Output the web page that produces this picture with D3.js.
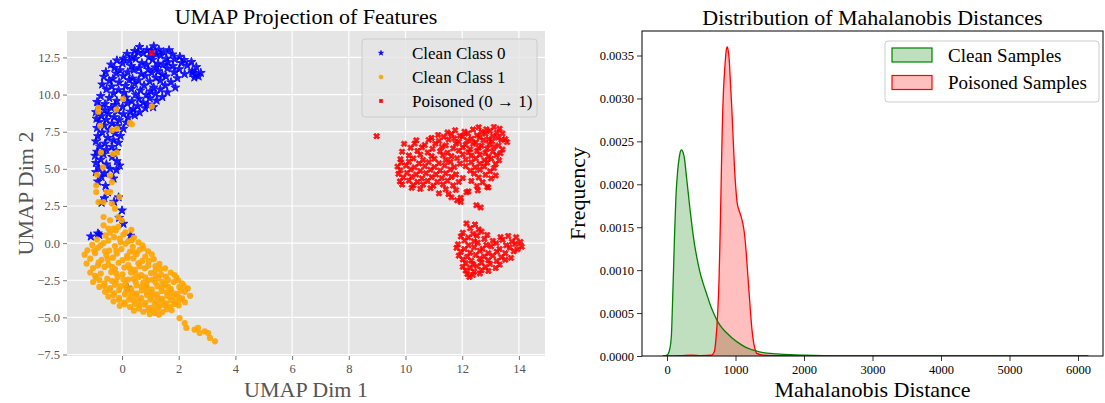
<!DOCTYPE html>
<html>
<head>
<meta charset="utf-8">
<script src="https://cdn.jsdelivr.net/npm/d3@7"></script>
<style>
  html, body { margin: 0; padding: 0; background: #fff; }
  svg { display: block; }
  text { font-family: "Liberation Serif", "Times New Roman", serif; }
</style>
</head>
<body>
<svg id="chart" width="1105" height="403"></svg>
<script>
// ---------------- DATA ----------------
const umapXTicks = [0, 2, 4, 6, 8, 10, 12, 14];
const umapYTicks = [-7.5, -5.0, -2.5, 0.0, 2.5, 5.0, 7.5, 10.0, 12.5];
const distXTicks = [0, 1000, 2000, 3000, 4000, 5000, 6000];
const freqYTicks = [0, 0.0005, 0.001, 0.0015, 0.002, 0.0025, 0.003, 0.0035];

const scatterLabels = ["Clean Class 0", "Clean Class 1", "Poisoned (0 \u2192 1)"];
const kdeLabels = ["Clean Samples", "Poisoned Samples"];

// Clean class 0 (UMAP dim1, dim2)
const cleanClass0 = [
[0.62,13.21],[0.88,13.0],[1.12,13.25],[1.3,13.02],[0.45,12.93],[0.75,12.78],[1.02,12.93],[1.47,12.86],[1.66,12.99],[1.2,12.71],
[0.18,12.74],[0.36,12.55],[0.58,12.82],[0.95,12.52],[1.36,12.62],[1.78,12.7],[2.04,12.55],[1.57,12.42],[2.19,12.33],[0.05,12.42],
[-0.18,12.3],[0.25,12.26],[0.48,12.41],[0.7,12.12],[1.08,12.35],[1.27,12.08],[1.86,12.38],[2.1,12.13],[2.45,12.2],[1.62,12.18],
[-0.39,12.02],[0.02,12.1],[0.33,11.92],[0.86,12.01],[1.17,11.83],[1.45,12.0],[1.8,11.92],[2.3,11.96],[2.62,11.85],[0.6,11.78],
[-0.27,11.79],[-0.07,11.64],[0.42,11.66],[0.93,11.69],[1.28,11.58],[1.6,11.76],[2.02,11.71],[2.48,11.58],[2.78,11.46],[2.61,11.33],
[-0.57,11.52],[-0.2,11.42],[0.2,11.5],[0.68,11.38],[1.05,11.47],[1.42,11.33],[1.84,11.5],[2.21,11.38],[2.7,11.22],[2.48,11.45],
[-0.64,11.2],[-0.32,11.06],[0.05,11.24],[0.37,11.08],[0.82,11.26],[1.2,11.12],[1.55,11.22],[1.95,11.1],[2.55,11.15],[0.58,10.96],
[-0.45,10.92],[-0.1,10.82],[0.25,10.97],[0.98,10.88],[1.35,10.95],[1.73,10.83],[0.45,10.72],[-0.7,10.68],[0.12,10.58],[0.78,10.62],
[1.12,10.48],[1.52,10.62],[1.88,10.47],[-0.36,10.55],[-0.55,10.35],[-0.12,10.3],[0.33,10.38],[0.65,10.28],[1.0,10.22],[1.35,10.35],
[1.6,10.15],[-0.3,10.08],[0.07,10.12],[0.48,10.0],[0.86,9.98],[1.18,10.06],[1.42,9.83],[-0.75,9.9],[-0.45,9.77],[0.15,9.8],
[0.6,9.72],[0.98,9.75],[1.22,9.6],[-0.18,9.58],[0.35,9.55],[0.75,9.45],[-0.88,9.5],[-0.6,9.36],[-0.25,9.3],[0.18,9.42],
[0.55,9.22],[0.9,9.33],[1.1,9.15],[-0.8,9.2],[-0.38,9.1],[0.02,9.18],[0.4,9.02],[0.82,9.08],[-0.6,8.95],[-0.15,8.9],
[0.3,8.85],[0.62,8.8],[-0.92,8.82],[-0.48,8.7],[0.05,8.68],[0.45,8.6],[-0.72,8.55],[-0.28,8.48],[0.22,8.45],[-0.9,8.38],
[-0.55,8.3],[-0.1,8.28],[0.15,8.12],[-0.8,8.15],[-0.35,8.05],[-0.62,7.92],[-0.15,7.88],[0.05,7.7],[-0.88,7.75],[-0.45,7.62],
[-0.7,7.45],[-0.25,7.4],[-0.05,7.22],[-0.85,7.2],[-0.5,7.08],[-0.3,6.92],[-0.92,6.85],[-0.6,6.7],[-0.12,6.76],[-0.78,6.5],
[-0.35,6.48],[-0.55,6.28],[-0.88,6.15],[-0.2,6.2],[-0.65,5.98],[-0.95,5.88],[-0.35,5.8],[-0.75,5.62],[-0.18,5.52],[-0.92,5.4],
[-0.55,5.3],[-0.08,5.22],[-0.82,5.08],[-0.42,5.0],[-0.2,4.92],[-0.92,4.78],[-0.62,4.7],[-0.72,4.45],[-0.3,4.35],[-0.85,4.15],
[-0.58,3.85],[-0.5,3.42],[-0.62,3.02],[-0.12,3.08],[-0.72,2.72],[-0.28,2.78],
[0.0,2.2],[-0.1,1.7],[0.05,1.3],[0.3,0.5],[-1.1,0.45],[-0.85,0.65],[-0.8,0.55],[0.2,-3.0]
];

// Clean class 1
const cleanClass1 = [
[-0.84,9.1],[-0.84,8.85],[0.04,9.7],[-0.2,9.0],[1.05,9.2],[0.35,8.0],[0.28,8.1],[-0.35,7.6],[-0.18,7.7],[-0.77,7.9],
[-0.74,6.1],[-0.32,6.0],[-0.18,6.1],[-0.67,5.1],[-0.88,4.6],[-0.42,4.55],[-0.36,4.1],[-0.54,3.44],[-0.91,3.88],[-0.91,3.44],
[-0.42,3.44],[-0.65,2.77],[-0.83,2.77],[-0.36,2.66],[-0.09,3.1],[-0.25,2.32],[-0.65,1.76],[-0.13,1.76],[-0.42,1.54],[-0.65,1.2],
[-0.48,0.98],[-0.3,0.98],[-0.13,1.09],[-0.01,1.54],
[-0.22,0.85],[0.12,0.72],[0.33,0.9],[-0.58,0.52],[-0.28,0.4],[0.05,0.58],[0.42,0.38],[-0.88,0.24],[-0.48,0.18],[-0.08,0.3],
[0.22,0.12],[0.58,0.05],[-1.05,-0.12],[-0.65,0.0],[-0.25,-0.2],[0.12,-0.05],[0.38,-0.25],[0.72,-0.15],[-1.22,-0.48],[-0.85,-0.32],
[-0.45,-0.5],[-0.02,-0.4],[0.28,-0.58],[0.62,-0.45],[0.92,-0.55],[-1.32,-0.78],[-0.95,-0.68],[-0.55,-0.82],[-0.18,-0.7],[0.18,-0.85],
[0.52,-0.72],[0.82,-0.9],[1.05,-0.75],[-1.12,-1.05],[-0.72,-1.12],[-0.32,-0.98],[0.02,-1.15],[0.4,-1.02],[0.72,-1.2],[1.12,-1.08],
[-1.25,-1.38],[-0.82,-1.3],[-0.48,-1.45],[-0.12,-1.32],[0.22,-1.48],[0.58,-1.35],[0.92,-1.52],[1.32,-1.4],[-1.02,-1.68],[-0.62,-1.6],
[-0.25,-1.75],[0.08,-1.65],[0.45,-1.8],[0.8,-1.7],[1.18,-1.85],[1.52,-1.7],[-1.12,-1.98],[-0.75,-2.05],[-0.38,-1.95],[0.02,-2.1],
[0.32,-1.98],[0.68,-2.15],[1.02,-2.02],[1.38,-2.12],[1.72,-1.98],[-0.92,-2.32],[-0.52,-2.4],[-0.15,-2.28],[0.22,-2.45],[0.58,-2.3],
[0.92,-2.5],[1.28,-2.35],[1.62,-2.48],[1.92,-2.32],[-1.02,-2.62],[-0.62,-2.7],[-0.22,-2.58],[0.12,-2.75],[0.48,-2.62],[0.85,-2.8],
[1.18,-2.65],[1.52,-2.78],[1.82,-2.62],[2.12,-2.72],[-0.8,-2.95],[-0.42,-3.02],[-0.05,-2.9],[0.32,-3.08],[0.7,-2.95],[1.05,-3.12],
[1.4,-2.98],[1.72,-3.1],[2.02,-2.95],[2.32,-3.05],[-0.6,-3.28],[-0.28,-3.38],[0.15,-3.25],[0.52,-3.4],[0.88,-3.3],[1.22,-3.45],
[1.58,-3.32],[1.92,-3.42],[2.22,-3.28],[-0.48,-3.6],[-0.1,-3.68],[0.3,-3.58],[0.68,-3.7],[1.05,-3.6],[1.42,-3.75],[1.78,-3.62],
[2.12,-3.72],[2.4,-3.55],[-0.3,-3.92],[0.08,-4.0],[0.42,-3.88],[0.82,-4.02],[1.2,-3.92],[1.55,-4.05],[1.9,-3.95],[2.22,-3.98],
[-0.08,-4.22],[0.28,-4.3],[0.62,-4.2],[0.98,-4.35],[1.32,-4.25],[1.7,-4.3],[2.0,-4.2],[0.42,-4.55],[0.75,-4.62],[1.08,-4.5],
[1.42,-4.65],[1.75,-4.52],[0.98,-4.78],[1.3,-4.82],
[-0.42,0.7],[-0.05,0.05],[0.35,0.2],[-0.75,-0.15],[-0.98,-0.5],[-0.6,-0.55],[-0.2,-0.52],[0.45,-0.62],[0.75,-0.35],[-0.5,-1.1],
[0.2,-1.0],[0.95,-1.2],[1.18,-1.55],[-0.85,-1.5],[-0.35,-1.6],[0.28,-1.7],[0.62,-1.55],[1.35,-1.75],[-0.95,-2.2],[-0.2,-2.05],
[0.48,-2.05],[0.82,-2.3],[1.2,-2.2],[1.55,-2.25],[1.85,-2.15],[-0.8,-2.48],[-0.35,-2.55],[0.05,-2.45],[0.4,-2.4],[0.75,-2.65],
[1.08,-2.45],[1.42,-2.6],[1.98,-2.5],[-0.62,-2.88],[-0.25,-2.8],[0.15,-2.95],[0.52,-2.85],[0.88,-2.98],[1.25,-2.9],[1.62,-2.92],
[2.18,-2.88],[-0.45,-3.15],[-0.1,-3.15],[0.35,-3.3],[0.7,-3.18],[1.05,-3.35],[1.4,-3.22],[1.75,-3.28],[2.08,-3.2],[-0.3,-3.5],
[0.1,-3.45],[0.48,-3.55],[0.88,-3.5],[1.25,-3.62],[1.6,-3.55],[1.98,-3.6],[-0.1,-3.82],[0.25,-3.8],[0.62,-3.85],[1.0,-3.8],
[1.38,-3.88],[1.72,-3.85],[2.05,-3.82],[0.1,-4.12],[0.45,-4.1],[0.8,-4.15],[1.15,-4.12],[1.5,-4.18],[1.85,-4.1],[0.6,-4.4],
[0.92,-4.48],[1.25,-4.42],[1.58,-4.45],[1.15,-4.7],
[2.03,-5.05],[2.21,-5.38],[2.27,-5.71],[2.56,-5.83],[2.68,-5.71],[2.74,-6.05],[2.92,-5.94],[3.04,-6.05],[3.1,-6.38],[3.28,-6.61]
];

// Poisoned (0 -> 1)
const poisoned = [
[1.05,12.8],[8.98,7.2],
[12.58,7.8],[12.85,7.66],[13.12,7.82],[13.32,7.7],[11.48,7.45],[11.75,7.6],[12.08,7.5],[12.38,7.65],[12.68,7.48],[12.98,7.55],
[13.22,7.42],[11.15,7.28],[11.62,7.33],[11.92,7.22],[12.2,7.38],[12.52,7.26],[12.82,7.36],[13.08,7.2],[13.42,7.38],[10.92,7.08],
[11.35,7.15],[11.72,7.05],[12.02,7.18],[12.33,7.02],[12.62,7.12],[12.93,7.0],[13.25,7.1],[13.52,7.0],
[10.38,6.92],[10.82,6.95],[11.18,6.88],[11.52,6.98],[11.88,6.82],[12.18,6.9],[12.48,6.78],[12.75,6.92],[13.05,6.85],[13.38,6.95],
[13.58,6.8],[9.95,6.68],[10.32,6.7],[10.68,6.6],[11.05,6.7],[11.42,6.58],[11.78,6.7],[12.12,6.62],[12.38,6.68],[12.68,6.55],
[12.95,6.66],[13.28,6.58],[10.18,6.42],[10.58,6.45],[10.95,6.35],[11.28,6.48],[11.68,6.38],[12.02,6.45],[12.28,6.32],[12.58,6.42],
[12.88,6.36],[13.12,6.48],[13.42,6.3],
[9.88,6.15],[10.42,6.2],[10.78,6.1],[11.22,6.18],[11.48,6.08],[11.88,6.22],[12.22,6.12],[12.52,6.2],[12.82,6.08],[13.08,6.16],
[13.35,6.05],[10.12,5.9],[10.52,5.95],[10.92,5.85],[11.32,5.92],[11.62,5.85],[12.02,5.96],[12.32,5.88],[12.62,5.95],[12.92,5.82],
[13.2,5.92],[9.82,5.65],[10.28,5.7],[10.62,5.6],[11.02,5.68],[11.42,5.6],[11.82,5.72],[12.12,5.62],[12.48,5.7],[12.78,5.58],
[13.02,5.68],[13.3,5.58],
[9.85,5.42],[10.12,5.48],[10.48,5.36],[10.82,5.45],[11.18,5.38],[11.58,5.46],[11.92,5.35],[12.32,5.44],[12.62,5.34],[12.88,5.42],
[13.18,5.32],[9.72,5.15],[10.02,5.22],[10.32,5.1],[10.68,5.18],[11.02,5.12],[11.38,5.22],[11.72,5.12],[12.12,5.18],[12.45,5.1],
[12.78,5.16],[13.12,5.05],[9.82,4.9],[10.18,4.96],[10.52,4.86],[10.88,4.94],[11.22,4.88],[11.58,4.95],[12.28,4.88],[12.62,4.94],
[12.98,4.84],
[9.75,4.66],[10.05,4.72],[10.38,4.62],[10.72,4.7],[11.08,4.62],[11.42,4.7],[11.78,4.62],[12.42,4.68],[12.82,4.6],[13.18,4.55],
[9.92,4.42],[10.22,4.46],[10.58,4.36],[10.92,4.44],[11.28,4.38],[11.62,4.45],[12.02,4.38],[12.58,4.42],[13.02,4.36],[9.8,4.15],
[10.12,4.2],[10.42,4.12],[10.78,4.18],[11.12,4.12],[11.48,4.2],[11.88,4.12],[12.32,4.18],[12.72,4.1],[9.88,3.95],[10.28,3.9],
[10.62,3.95],[10.98,3.86],[11.32,3.94],[11.68,3.88],[12.52,3.84],[12.88,3.78],
[10.22,3.72],[10.52,3.65],[10.88,3.7],[11.42,3.62],[11.78,3.58],[12.22,3.48],[12.92,3.75],[11.18,3.35],[11.52,3.3],[12.15,3.42],
[12.55,3.55],[11.62,3.08],[11.95,3.05],[11.82,2.88],[11.95,2.77],[12.5,2.55],[12.65,2.4],
[12.15,1.32],[12.45,1.25],[12.28,1.0],[12.58,0.92],[12.02,0.7],[12.38,0.62],[12.68,0.78],[11.95,0.45],[12.22,0.38],[12.52,0.5],
[12.88,0.55],[13.35,0.4],[13.62,0.48],[13.9,0.4],[12.08,0.18],[12.42,0.12],[12.78,0.28],[13.08,0.15],[13.42,0.22],[13.75,0.1],
[14.05,0.08],[11.85,-0.08],[12.22,-0.15],[12.55,0.02],[12.85,-0.12],[13.2,0.0],[13.55,-0.15],[13.88,-0.05],[14.1,-0.25],[11.8,-0.32],
[12.08,-0.4],[12.42,-0.28],[12.72,-0.38],[13.02,-0.22],[13.32,-0.4],[13.68,-0.3],[13.95,-0.42],[11.95,-0.58],[12.28,-0.65],[12.62,-0.52],
[12.92,-0.68],[13.22,-0.58],[13.52,-0.68],[13.82,-0.55],[11.88,-0.85],[12.18,-0.92],[12.48,-0.8],[12.78,-0.9],[13.08,-0.85],[13.38,-0.95],
[13.72,-1.0],[12.02,-1.1],[12.32,-1.18],[12.62,-1.05],[12.92,-1.15],[13.22,-1.2],[13.52,-1.12],[12.12,-1.35],[12.38,-1.42],[12.68,-1.32],
[12.98,-1.4],[13.32,-1.45],[12.02,-1.6],[12.28,-1.68],[12.52,-1.55],[12.82,-1.62],[13.18,-1.68],[12.12,-1.85],[12.42,-1.92],[12.68,-1.82],
[12.92,-1.88],[12.18,-2.08],[12.38,-2.15],[12.62,-2.05],[12.25,-2.28]
];

// KDE of Mahalanobis distances: [distance, density]
const cleanKde = [
[-60,0],[0,0.00001],[40,0.00008],[65,0.00025],[80,0.0006],[95,0.001],[110,0.0014],[130,0.00185],[155,0.00215],
[180,0.00232],[200,0.00239],[215,0.0024],[235,0.00237],[255,0.0023],[280,0.00212],[310,0.0019],[340,0.00168],
[370,0.00148],[400,0.00131],[440,0.00113],[480,0.00098],[530,0.00084],[580,0.00072],[630,0.0006],[680,0.0005],
[740,0.0004],[800,0.00033],[870,0.00027],[950,0.00021],[1050,0.00015],[1150,0.0001],[1250,0.00007],[1400,0.00004],
[1600,0.000025],[1800,0.000015],[2000,0.00001],[2300,0.000005],[2600,0.000002],[3000,0],[6150,0]
];
const poisonedKde = [
[-60,0],[200,0.000003],[350,0.00001],[500,0.000005],[650,0.00001],[690,0.00005],[715,0.0002],[740,0.0005],
[760,0.0009],[775,0.0014],[790,0.002],[805,0.0026],[825,0.0031],[845,0.00337],[865,0.00356],[880,0.0036],
[895,0.00355],[910,0.00343],[925,0.0032],[945,0.0029],[965,0.00255],[985,0.0022],[1005,0.00195],[1025,0.00178],
[1050,0.0017],[1080,0.00163],[1105,0.00155],[1130,0.00143],[1155,0.00122],[1180,0.00094],[1200,0.00072],
[1220,0.0005],[1240,0.00031],[1260,0.00018],[1285,0.00008],[1310,0.00003],[1400,0.00001],[1600,0.000005],
[2000,0.000002],[6150,0]
];

// ---------------- DRAW ----------------
const svg = d3.select("#chart");
const FONT = '"Liberation Serif", "Times New Roman", serif';

function styleAxis(a, col, size) {
  a.attr("font-family", FONT).attr("font-size", size);
  a.select(".domain").remove();
  a.selectAll(".tick line").attr("stroke", col).attr("stroke-width", 0.8);
  a.selectAll(".tick text").attr("fill", col)
    .attr("font-family", FONT).attr("font-size", size)
    .style("font-family", FONT).style("font-size", size + "px");
}

// ===== Left panel =====
const L = {left: 67, right: 545, top: 31, bottom: 356};
const xL = d3.scaleLinear().domain([-1.94, 14.92]).range([L.left, L.right]);
const yL = d3.scaleLinear().domain([-7.6, 14.28]).range([L.bottom, L.top]);

const gL = svg.append("g");
gL.append("rect").attr("x", L.left).attr("y", L.top)
  .attr("width", L.right - L.left).attr("height", L.bottom - L.top).attr("fill", "#e5e5e5");

gL.append("g").selectAll("line").data(umapXTicks).join("line")
  .attr("x1", d => xL(d)).attr("x2", d => xL(d)).attr("y1", L.top).attr("y2", L.bottom)
  .attr("stroke", "#fff").attr("stroke-width", 1.2);
gL.append("g").selectAll("line").data(umapYTicks).join("line")
  .attr("y1", d => yL(d)).attr("y2", d => yL(d)).attr("x1", L.left).attr("x2", L.right)
  .attr("stroke", "#fff").attr("stroke-width", 1.2);

const axXL = gL.append("g").attr("transform", `translate(0,${L.bottom})`)
  .call(d3.axisBottom(xL).tickValues(umapXTicks).tickFormat(d3.format("d")).tickSize(4).tickPadding(4));
const axYL = gL.append("g").attr("transform", `translate(${L.left},0)`)
  .call(d3.axisLeft(yL).tickValues(umapYTicks).tickFormat(d3.format(".1f")).tickSize(4).tickPadding(3));
styleAxis(axXL, "#555", 12.5);
styleAxis(axYL, "#555", 12.5);

svg.append("clipPath").attr("id", "clipL").append("rect")
  .attr("x", L.left).attr("y", L.top).attr("width", L.right - L.left).attr("height", L.bottom - L.top);
const pts = gL.append("g").attr("clip-path", "url(#clipL)");

const starSym = d3.symbol().type(d3.symbolStar).size(24);
const circSym = d3.symbol().type(d3.symbolCircle).size(30);
const xSym = d3.symbol().type(d3.symbolCross).size(22);

pts.append("g").selectAll("path").data(cleanClass0).join("path")
  .attr("d", starSym)
  .attr("transform", d => `translate(${xL(d[0])},${yL(d[1])})`)
  .attr("fill", "#0000ff").attr("stroke", "#0000ff").attr("stroke-width", 1).attr("stroke-linejoin", "round").attr("opacity", 0.9);
pts.append("g").selectAll("path").data(cleanClass1).join("path")
  .attr("d", circSym)
  .attr("transform", d => `translate(${xL(d[0])},${yL(d[1])})`)
  .attr("fill", "#ffa500").attr("opacity", 0.9);
pts.append("g").selectAll("path").data(poisoned).join("path")
  .attr("d", xSym)
  .attr("transform", d => `translate(${xL(d[0])},${yL(d[1])}) rotate(45)`)
  .attr("fill", "#ff0000").attr("stroke", "#ff0000").attr("stroke-width", 0.8).attr("opacity", 0.9);

// left legend
const legL = gL.append("g");
legL.append("rect").attr("x", 362).attr("y", 39).attr("width", 175).attr("height", 78).attr("rx", 3)
  .attr("fill", "#e5e5e5").attr("fill-opacity", 0.8).attr("stroke", "#cccccc");
const legSyms = [
  {sym: d3.symbol().type(d3.symbolStar).size(8), fill: "#0000ff", rot: 0},
  {sym: d3.symbol().type(d3.symbolCircle).size(12), fill: "#ffa500", rot: 0},
  {sym: d3.symbol().type(d3.symbolCross).size(9), fill: "#ff0000", rot: 45}
];
scatterLabels.forEach((lab, i) => {
  const y = 53 + i * 24;
  legL.append("path").attr("d", legSyms[i].sym)
    .attr("transform", `translate(381,${y}) rotate(${legSyms[i].rot})`)
    .attr("fill", legSyms[i].fill).attr("stroke", legSyms[i].fill).attr("stroke-width", 0.6);
  legL.append("text").attr("x", 412).attr("y", y).attr("dy", "0.35em")
    .style("font-size", "17px").attr("fill", "#000").text(lab);
});

gL.append("text").attr("x", (L.left + L.right) / 2).attr("y", 24).attr("text-anchor", "middle")
  .style("font-size", "22px").attr("fill", "#000").text("UMAP Projection of Features");
gL.append("text").attr("x", (L.left + L.right) / 2).attr("y", 397).attr("text-anchor", "middle")
  .style("font-size", "22px").attr("fill", "#555").text("UMAP Dim 1");
gL.append("text").attr("transform", `translate(33,${(L.top + L.bottom) / 2}) rotate(-90)`)
  .attr("text-anchor", "middle").style("font-size", "22px").attr("fill", "#555").text("UMAP Dim 2");

// ===== Right panel =====
const R = {left: 642, right: 1103, top: 31, bottom: 356};
const xR = d3.scaleLinear().domain([-365, 6365]).range([R.left, R.right]);
const yR = d3.scaleLinear().domain([0, 0.0037855]).range([R.bottom, R.top]);
const gR = svg.append("g");

svg.append("clipPath").attr("id", "clipR").append("rect")
  .attr("x", R.left).attr("y", R.top).attr("width", R.right - R.left).attr("height", R.bottom - R.top);

const area = d3.area().x(d => xR(d[0])).y0(yR(0)).y1(d => yR(d[1])).curve(d3.curveMonotoneX);
const line = d3.line().x(d => xR(d[0])).y(d => yR(d[1])).curve(d3.curveMonotoneX);
const kdeG = gR.append("g").attr("clip-path", "url(#clipR)");
kdeG.append("path").datum(cleanKde).attr("d", area).attr("fill", "green").attr("fill-opacity", 0.25);
kdeG.append("path").datum(poisonedKde).attr("d", area).attr("fill", "red").attr("fill-opacity", 0.25);
kdeG.append("path").datum(cleanKde).attr("d", line).attr("fill", "none").attr("stroke", "green").attr("stroke-width", 1.3);
kdeG.append("path").datum(poisonedKde).attr("d", line).attr("fill", "none").attr("stroke", "red").attr("stroke-width", 1.3);

const axXR = gR.append("g").attr("transform", `translate(0,${R.bottom})`)
  .call(d3.axisBottom(xR).tickValues(distXTicks).tickFormat(d3.format("d")).tickSize(5).tickPadding(4));
const axYR = gR.append("g").attr("transform", `translate(${R.left},0)`)
  .call(d3.axisLeft(yR).tickValues(freqYTicks).tickFormat(d3.format(".4f")).tickSize(5).tickPadding(3));
styleAxis(axXR, "#000", 12.5);
styleAxis(axYR, "#000", 12.5);
gR.append("rect").attr("x", R.left).attr("y", R.top).attr("width", R.right - R.left).attr("height", R.bottom - R.top)
  .attr("fill", "none").attr("stroke", "#000").attr("stroke-width", 1);

// right legend
const legR = gR.append("g");
legR.append("rect").attr("x", 885).attr("y", 41).attr("width", 214).attr("height", 61).attr("rx", 3)
  .attr("fill", "#fff").attr("fill-opacity", 0.8).attr("stroke", "#cccccc");
const kdeCols = ["green", "red"];
kdeLabels.forEach((lab, i) => {
  const y = 48 + i * 27.5;
  legR.append("rect").attr("x", 892).attr("y", y).attr("width", 40).attr("height", 14)
    .attr("fill", kdeCols[i]).attr("fill-opacity", 0.25).attr("stroke", kdeCols[i]).attr("stroke-width", 1.2);
  legR.append("text").attr("x", 948).attr("y", y + 7).attr("dy", "0.35em")
    .style("font-size", "19px").attr("fill", "#000").text(lab);
});

gR.append("text").attr("x", (R.left + R.right) / 2).attr("y", 25).attr("text-anchor", "middle")
  .style("font-size", "22px").attr("fill", "#000").text("Distribution of Mahalanobis Distances");
gR.append("text").attr("x", (R.left + R.right) / 2).attr("y", 397).attr("text-anchor", "middle")
  .style("font-size", "22px").attr("fill", "#000").text("Mahalanobis Distance");
gR.append("text").attr("transform", `translate(585,${(R.top + R.bottom) / 2}) rotate(-90)`)
  .attr("text-anchor", "middle").style("font-size", "22px").attr("fill", "#000").text("Frequency");
</script>
</body>
</html>
